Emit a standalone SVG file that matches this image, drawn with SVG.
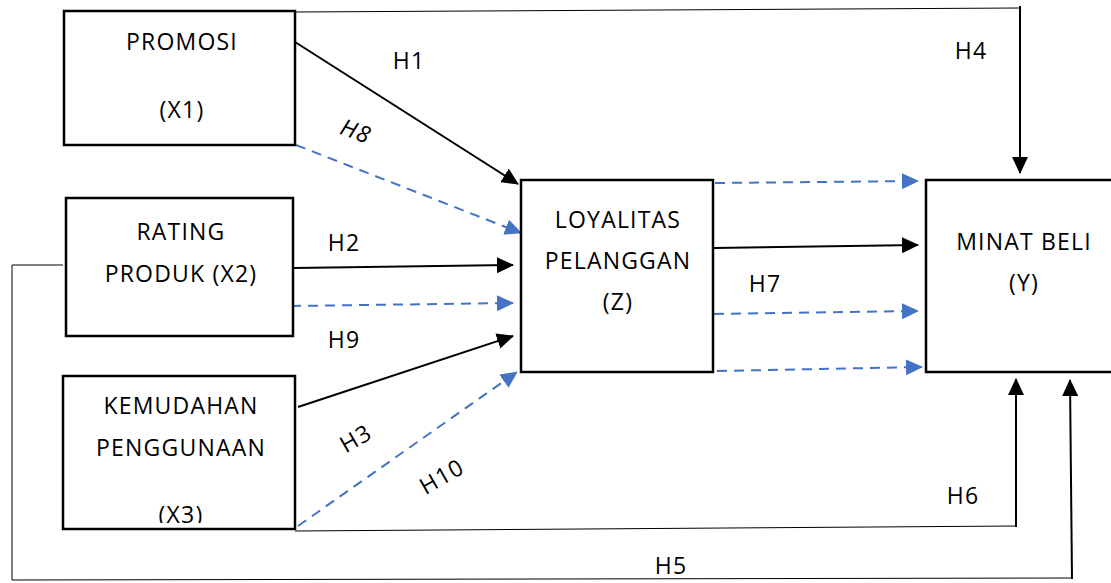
<svg xmlns="http://www.w3.org/2000/svg" width="1111" height="583" viewBox="0 0 1111 583">
<style>
.box{fill:#fff;stroke:#000;stroke-width:2.5}
.t{font-family:"Open Sans","Liberation Sans",sans-serif;font-size:23px;letter-spacing:1.2px;fill:#000;text-anchor:middle}
.lbl{font-family:"Open Sans","Liberation Sans",sans-serif;font-size:23px;letter-spacing:1.2px;fill:#000;text-anchor:middle}
.k{stroke:#000;stroke-width:2;fill:none}
.thin{stroke:#000;stroke-width:1;fill:none}
.b{stroke:#4472C4;stroke-width:2;stroke-dasharray:10 7;fill:none}
</style>
<defs>
<marker id="ak" markerUnits="userSpaceOnUse" markerWidth="18" markerHeight="16" refX="16" refY="8" orient="auto"><path d="M0,0 L17,8 L0,16 Z" fill="#000"/></marker>
<marker id="ab" markerUnits="userSpaceOnUse" markerWidth="18" markerHeight="16" refX="16" refY="8" orient="auto"><path d="M0,0 L17,8 L0,16 Z" fill="#4472C4"/></marker>
<clipPath id="c3"><rect x="64" y="377" width="230" height="146"/></clipPath>
</defs>
<g id="connectors">
<line class="k" x1="295" y1="42" x2="518" y2="184" marker-end="url(#ak)"/>
<line class="b" x1="296" y1="145" x2="521" y2="233" marker-end="url(#ab)"/>
<line class="k" x1="294" y1="268" x2="513" y2="265" marker-end="url(#ak)"/>
<line class="b" x1="291" y1="306" x2="513" y2="303" marker-end="url(#ab)"/>
<line class="k" x1="298" y1="407" x2="513" y2="336" marker-end="url(#ak)"/>
<line class="b" x1="298" y1="526" x2="517" y2="372" marker-end="url(#ab)"/>
<line class="b" x1="715" y1="183" x2="918" y2="181" marker-end="url(#ab)"/>
<line class="k" x1="714" y1="248" x2="918" y2="245" marker-end="url(#ak)"/>
<line class="b" x1="714" y1="314" x2="918" y2="311" marker-end="url(#ab)"/>
<line class="b" x1="717" y1="371" x2="922" y2="367" marker-end="url(#ab)"/>
<polyline class="thin" points="295,12 1020,8"/>
<line class="k" x1="1020" y1="6" x2="1020" y2="173" marker-end="url(#ak)"/>
<polyline class="thin" points="295,531 1016,526"/>
<line class="k" x1="1016" y1="527" x2="1016" y2="379" marker-end="url(#ak)"/>
<polyline class="thin" points="63,265 12,265 12,580 1072,578"/>
<line class="k" x1="1072" y1="579" x2="1070" y2="380" marker-end="url(#ak)"/>
</g>
<g id="promosi">
<rect class="box" x="64" y="11" width="231" height="134"/>
<text class="t" x="182" y="50">PROMOSI</text>
<text class="t" x="182" y="118">(X1)</text>
</g>
<g id="rating">
<rect class="box" x="66" y="198" width="227" height="138"/>
<text class="t" x="181" y="240">RATING</text>
<text class="t" x="181" y="282">PRODUK (X2)</text>
</g>
<g id="kemudahan">
<rect class="box" x="63" y="376" width="232" height="153"/>
<text class="t" x="181" y="414">KEMUDAHAN</text>
<text class="t" x="181" y="456">PENGGUNAAN</text>
<text class="t" x="181" y="523" clip-path="url(#c3)">(X3)</text>
</g>
<g id="loyalitas">
<rect class="box" x="521" y="180" width="192" height="192"/>
<text class="t" x="618" y="228">LOYALITAS</text>
<text class="t" x="618" y="269">PELANGGAN</text>
<text class="t" x="618" y="310">(Z)</text>
</g>
<g id="minat">
<rect class="box" x="926" y="180" width="200" height="192"/>
<text class="t" x="1024" y="250">MINAT BELI</text>
<text class="t" x="1024" y="291">(Y)</text>
</g>
<g id="labels">
<text class="lbl" x="409" y="69">H1</text>
<text class="lbl" x="356" y="139" font-style="italic" transform="rotate(20 355 131)">H8</text>
<text class="lbl" x="344" y="251">H2</text>
<text class="lbl" x="344" y="348">H9</text>
<text class="lbl" x="356" y="447" transform="rotate(-30 355 439)">H3</text>
<text class="lbl" x="442" y="485" transform="rotate(-30 441 477)">H10</text>
<text class="lbl" x="971" y="59">H4</text>
<text class="lbl" x="765" y="292">H7</text>
<text class="lbl" x="963" y="504">H6</text>
<text class="lbl" x="671" y="574">H5</text>
</g>
</svg>
